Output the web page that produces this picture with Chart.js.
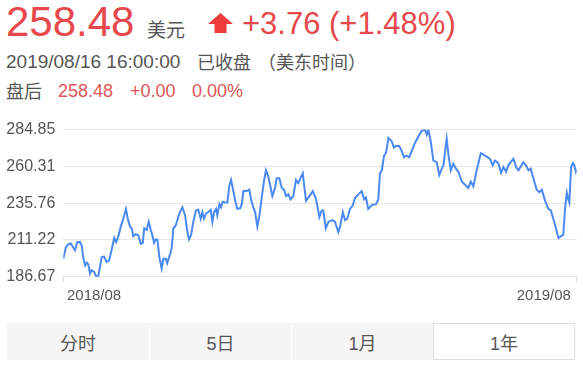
<!DOCTYPE html>
<html>
<head>
<meta charset="utf-8">
<script src="https://cdn.jsdelivr.net/npm/chart.js@4.4.1/dist/chart.umd.min.js"></script>
<style>
    html, body { margin: 0; padding: 0; background: #fff; }
    body { width: 583px; height: 369px; position: relative; overflow: hidden;
           font-family: 'Liberation Sans', Arial, 'Noto Sans CJK SC', sans-serif; }
    .t { position: absolute; line-height: 1; white-space: nowrap; }
    .gray { color: #555; }
    .red { color: #e8484b; }
    .red2 { color: #df5557; }
    .cjk { font-family: 'Noto Sans CJK SC', sans-serif; }
    #chartBox { position: absolute; left: 0; top: 112px; width: 583px; height: 200px; }
    .tab { position: absolute; top: 323px; height: 37px; width: 142px; box-sizing: border-box;
           background: #f5f5f5; color: #555; font-size: 18px; display: flex;
           align-items: center; justify-content: center; font-family: 'Liberation Sans', 'Noto Sans CJK SC', sans-serif; }
    .tab.sep { border-left: 1px solid #fff; }
    .tab.active { background: #fff; border: 1px solid #ddd; }
</style>
</head>
<body>
    <!-- header -->
    <div class="t red" style="left:6px; top:1px; font-size:42px;">258.48</div>
    <div class="t gray cjk" style="left:147px; top:19px; font-size:19px;">美元</div>
    <svg style="position:absolute; left:207px; top:12px;" width="28" height="23">
        <polygon points="1,12 13.5,1 26,12 19.5,12 19.5,21 7.5,21 7.5,12" fill="#f03b3b"/>
    </svg>
    <div class="t red" style="left:242px; top:8px; font-size:31px;">+3.76 (+1.48%)</div>

    <div class="t gray" style="left:6px; top:52px; font-size:19px;">2019/08/16 16:00:00</div>
    <div class="t gray cjk" style="left:197px; top:52px; font-size:18px;">已收盘</div>
    <div class="t gray cjk" style="left:258px; top:52px; font-size:18px;">（美东时间）</div>

    <div class="t gray cjk" style="left:6px; top:81px; font-size:18px;">盘后</div>
    <div class="t red2" style="left:58px; top:82px; font-size:18px;">258.48</div>
    <div class="t red2" style="left:130px; top:82px; font-size:18px;">+0.00</div>
    <div class="t red2" style="left:192px; top:82px; font-size:18px;">0.00%</div>

    <div id="chartBox"><canvas id="priceChart"></canvas></div>

    <div class="tab" style="left:7px;">分时</div>
    <div class="tab sep" style="left:149px;">5日</div>
    <div class="tab sep" style="left:291px;">1月</div>
    <div class="tab active" style="left:433px;">1年</div>

<script>
// trading-day position in the one-year window (0 = first day shown)
const days = [0,1.2,2.4,3.6,4.9,5.7,6.8,8.1,9.0,9.7,
    10.6,11.4,12.2,13.0,13.8,15.0,15.8,17.0,18.7,19.8,
    21.1,22.3,23.6,24.8,25.7,26.8,28.0,29.2,30.5,31.4,
    32.5,33.3,34.1,35.3,36.5,37.7,38.7,39.4,40.6,41.6,
    42.6,43.5,44.2,45.0,45.8,46.8,47.9,48.7,49.9,50.6,
    52.0,52.8,53.6,54.7,56.0,56.8,58.0,59.3,60.4,61.2,
    62.2,63.3,64.6,65.7,66.9,67.7,68.5,69.5,70.6,71.8,
    72.6,73.4,74.4,75.0,76.0,76.8,77.6,78.8,79.9,80.8,
    81.7,82.5,83.6,84.7,86.1,86.9,87.7,89.3,90.6,91.4,
    92.5,93.4,94.5,95.5,96.6,97.7,98.7,99.8,100.7,101.8,
    103.1,103.9,105.2,106.4,107.5,108.5,109.6,110.7,112.0,113.3,
    114.4,116.6,118.2,119.3,121.5,123.1,124.7,125.8,126.6,127.8,
    129.1,131.2,132.3,133.9,134.8,136.1,137.2,138.3,139.6,140.9,
    142.1,143.7,145.3,146.5,147.4,148.5,150.2,152.3,153.4,154.2,
    155.1,156.2,157.2,158.3,159.9,161.0,162.0,163.6,164.8,165.9,
    167.2,168.4,169.7,171.3,172.9,174.5,176.2,177.0,177.8,178.9,
    180.2,181.8,183.1,184.3,185.1,186.7,187.5,188.7,189.9,191.2,
    192.4,194.0,195.6,197.2,198.4,199.7,201.3,203.3,204.5,206.2,
    207.8,209.1,210.2,211.8,213.2,214.3,215.6,216.7,217.9,219.2,
    220.5,221.6,222.8,224.0,225.3,226.5,227.6,228.9,230.5,231.8,
    233.0,234.6,236.2,237.4,238.6,239.9,241.1,242.2,243.5,244.3,
    245.2,245.9,246.4,247.3,248.1,248.7,249.6,250];

const closes = [198.6,206.0,208.3,208.9,206.0,204.4,209.7,209.9,207.2,199.6,
    194.2,196.0,194.9,188.9,191.0,189.9,187.3,186.67,199.6,200.2,
    196.4,197.5,205.0,212.5,209.7,213.6,220.1,225.4,231.9,225.4,
    220.1,219.0,213.6,215.1,214.3,208.6,209.3,219.0,217.9,223.3,
    217.9,213.6,209.3,211.5,211.5,199.6,192.1,198.6,198.6,195.7,
    201.8,206.0,219.0,220.7,226.5,229.8,233.0,227.6,216.8,211.5,
    214.3,223.3,230.9,231.5,225.4,229.8,225.4,228.7,229.8,231.2,
    223.3,229.8,231.9,227.6,235.1,233.0,236.7,236.2,236.2,247.0,
    251.3,245.9,238.3,231.9,232.3,235.1,243.8,243.8,244.8,238.3,
    233.0,229.8,220.1,227.6,239.4,250.2,257.7,253.5,248.0,240.5,
    245.9,252.4,252.4,245.9,244.8,240.5,241.6,238.3,240.5,251.3,
    249.1,255.6,237.3,239.4,243.8,238.3,226.5,230.9,230.9,219.0,
    223.3,224.4,223.3,216.4,220.1,229.8,224.4,225.4,231.9,234.1,
    239.4,241.6,243.8,238.3,239.4,231.9,234.5,235.1,238.3,255.6,
    257.7,267.4,269.6,279.3,277.1,272.8,273.9,273.9,270.6,266.4,
    267.4,266.4,270.6,276.1,280.3,284.0,284.85,281.4,284.5,277.1,
    264.2,263.1,254.5,258.8,261.0,278.8,268.5,257.7,262.1,258.8,
    256.7,250.2,248.0,245.9,250.2,247.0,257.7,269.0,268.1,266.8,
    265.3,261.0,264.2,262.5,256.0,259.9,256.7,261.0,263.1,265.3,
    259.9,257.7,260.3,263.1,261.0,257.7,258.8,252.4,244.8,243.1,
    244.8,237.3,231.9,230.9,225.4,219.0,212.5,213.6,214.7,231.9,
    242.7,238.3,236.2,259.9,262.5,261.6,256.7,258.48];

const yTicks = [186.67, 211.22, 235.76, 260.31, 284.85];
const xTickDays = [0, 15, 234, 250];
const xTickLabels = ['', '2018/08', '2019/08', ''];

Chart.defaults.font.family = "'Liberation Sans', Arial, sans-serif";
Chart.defaults.color = '#555';

const ctx = document.getElementById('priceChart').getContext('2d');
const priceChart = new Chart(ctx, {
    type: 'line',
    data: {
        datasets: [{
            data: days.map((d, i) => ({ x: d, y: closes[i] })),
            borderColor: '#4a89f3',
            borderWidth: 2,
            pointRadius: 0,
            tension: 0,
            fill: false
        }]
    },
    options: {
        responsive: true,
        maintainAspectRatio: false,
        animation: false,
        layout: { padding: { top: 12.7, right: 6.3, left: 0, bottom: 0 } },
        plugins: { legend: { display: false }, tooltip: { enabled: false } },
        scales: {
            x: {
                type: 'linear',
                min: 0,
                max: 250,
                afterBuildTicks: axis => { axis.ticks = xTickDays.map(v => ({ value: v })); },
                afterFit: axis => { axis.height = 35.3; },
                ticks: {
                    autoSkip: false,
                    maxRotation: 0,
                    padding: 4,
                    font: { size: 15 },
                    color: '#555',
                    callback: (v, i) => xTickLabels[i]
                },
                grid: {
                    drawOnChartArea: false,
                    drawTicks: true,
                    tickLength: 6,
                    color: c => (c.index === 0 || c.index === xTickDays.length - 1) ? '#dcdcdc' : 'rgba(0,0,0,0)'
                },
                border: { display: false }
            },
            y: {
                min: 186.67,
                max: 284.85,
                afterBuildTicks: axis => { axis.ticks = yTicks.map(v => ({ value: v })); },
                afterFit: axis => { axis.width = 63.3; },
                ticks: {
                    padding: 8,
                    font: { size: 16 },
                    color: '#555',
                    callback: v => v.toFixed(2)
                },
                grid: { color: '#e6e6e6', lineWidth: 1, drawTicks: false },
                border: { display: false }
            }
        }
    }
});
</script>
</body>
</html>
